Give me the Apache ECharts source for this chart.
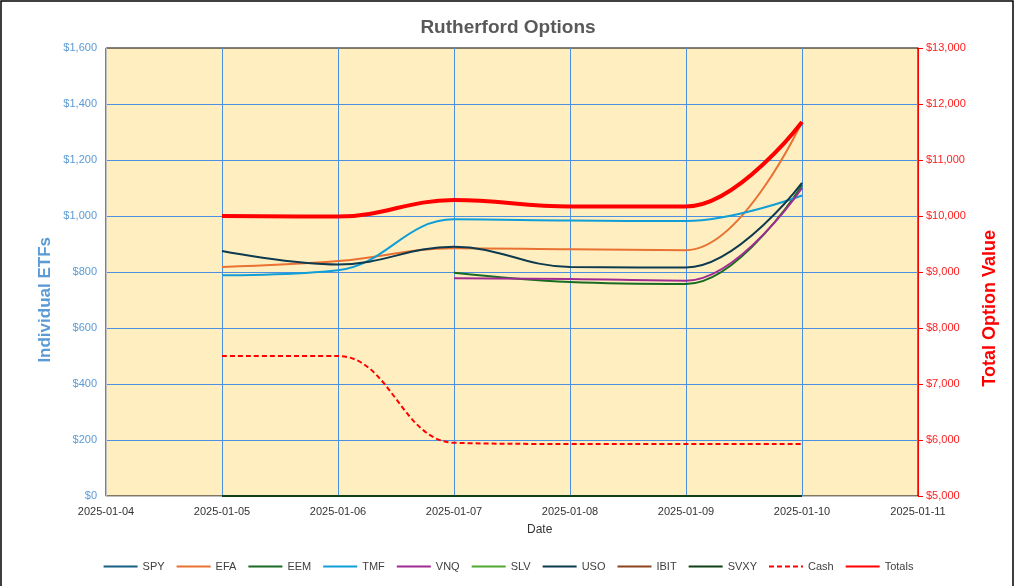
<!DOCTYPE html>
<html>
<head>
<meta charset="utf-8">
<script src="https://cdn.jsdelivr.net/npm/echarts@6/dist/echarts.min.js"></script>
<style>
html,body{margin:0;padding:0;background:#fff;}
#chart{width:1016px;height:586px;}
</style>
</head>
<body>
<div id="chart"></div>
<script>
// ---- data ----
var dates = ['2025-01-04','2025-01-05','2025-01-06','2025-01-07','2025-01-08','2025-01-09','2025-01-10','2025-01-11'];
var spy    = [null, 0, 0, 0, 0, 0, 0, null];
var efa    = [null, 818, 839, 885, 881, 878, 1336, null];
var eem    = [null, null, null, 797, 764, 757, 1110, null];
var tmf    = [null, 788, 806, 988, 984, 982, 1073, null];
var vnq    = [null, null, null, 778, 775, 769, 1100, null];
var slv    = [null, 0, 0, 0, 0, 0, 0, null];
var uso    = [null, 875, 827, 890, 818, 816, 1118, null];
var ibit   = [null, 0, 0, 0, 0, 0, 0, null];
var svxy   = [null, 0, 0, 0, 0, 0, 0, null];
var cash   = [null, 7500, 7500, 5950, 5930, 5930, 5930, null];
var totals = [null, 10000, 9990, 10285, 10170, 10170, 11680, null];

var leftTicks = [0, 1600, 200];
var rightTicks = [5000, 13000, 1000];

var chart = echarts.init(document.getElementById('chart'), null, {renderer:'canvas'});

function money(v){ return '$' + v.toLocaleString('en-US'); }

var GRIDBLUE = '#4A8FE0';

function etf(name, data, color){
  return {name:name, type:'line', data:data, yAxisIndex:0, smooth:0.4, symbol:'none',
    lineStyle:{color:color, width:2}, itemStyle:{color:color}};
}

var option = {
  animation:false,
  textStyle:{fontFamily:'Liberation Sans, Arial, sans-serif'},
  title:{text:'Rutherford Options', left:'center', top:13,
    textStyle:{fontSize:19, fontWeight:'bold', color:'#595959', fontFamily:'Liberation Sans, Arial, sans-serif'}},
  grid:{left:106, right:98, top:48, bottom:90, show:true, backgroundColor:'#FFEFC0', borderColor:'#000', borderWidth:1},
  legend:{top:556, left:'center', itemWidth:34, itemHeight:12, itemGap:11,
    itemStyle:{opacity:0},
    textStyle:{fontSize:11, color:'#404040'},
    data:['SPY','EFA','EEM','TMF','VNQ','SLV','USO','IBIT','SVXY','Cash','Totals']},
  xAxis:{type:'category', data:dates, boundaryGap:false,
    axisLine:{show:true, lineStyle:{color:'#BFBFBF', width:1}},
    axisTick:{show:false},
    axisLabel:{fontSize:11, color:'#333', margin:10, interval:0},
    splitLine:{show:true, interval:0, showMinLine:false, showMaxLine:false, lineStyle:{color:GRIDBLUE, width:1}}},
  yAxis:[
    {type:'value', min:leftTicks[0], max:leftTicks[1], interval:leftTicks[2], position:'left',
      axisLine:{show:true, lineStyle:{color:'#BFBFBF'}},
      axisTick:{show:false},
      axisLabel:{fontSize:11, color:'#5B9BD5', margin:9, formatter:money},
      splitLine:{show:true, showMinLine:false, showMaxLine:false, lineStyle:{color:GRIDBLUE, width:1}}},
    {type:'value', min:rightTicks[0], max:rightTicks[1], interval:rightTicks[2], position:'right',
      axisLine:{show:true, lineStyle:{color:'#FF0000', width:1}},
      axisTick:{show:true, inside:false, length:5, lineStyle:{color:'#FF0000'}},
      axisLabel:{fontSize:11, color:'#FF2020', margin:8, formatter:money},
      splitLine:{show:false}}
  ],
  graphic:[
    {type:'rect', shape:{x:1, y:1, width:1012, height:600}, style:{fill:'none', stroke:'#000', lineWidth:1.5}, silent:true},
    {type:'text', left:37, top:237, rotation:Math.PI/2,
      style:{text:'Individual ETFs', fill:'#5B9BD5', font:'bold 17px Liberation Sans, Arial, sans-serif'}},
    {type:'text', left:981, top:230, rotation:Math.PI/2,
      style:{text:'Total Option Value', fill:'#FF0000', font:'bold 18px Liberation Sans, Arial, sans-serif'}},
    {type:'text', left:527, top:524,
      style:{text:'Date', fill:'#333', font:'12px Liberation Sans, Arial, sans-serif'}}
  ],
  series:[
    etf('SPY', spy, '#156082'),
    etf('EFA', efa, '#E97132'),
    etf('EEM', eem, '#196B24'),
    etf('TMF', tmf, '#0F9ED5'),
    etf('VNQ', vnq, '#A02B93'),
    etf('SLV', slv, '#4EA72E'),
    etf('USO', uso, '#0D3A4E'),
    etf('IBIT', ibit, '#8B441E'),
    etf('SVXY', svxy, '#0F4016'),
    {name:'Cash', type:'line', data:cash, yAxisIndex:1, smooth:0.4, symbol:'none',
      lineStyle:{color:'#FF0000', width:2, type:[5,3]}, itemStyle:{color:'#FF0000'}},
    {name:'Totals', type:'line', data:totals, yAxisIndex:1, smooth:0.4, symbol:'none',
      lineStyle:{color:'#FF0000', width:4}, itemStyle:{color:'#FF0000'}}
  ]
};
chart.setOption(option);
</script>
</body>
</html>
